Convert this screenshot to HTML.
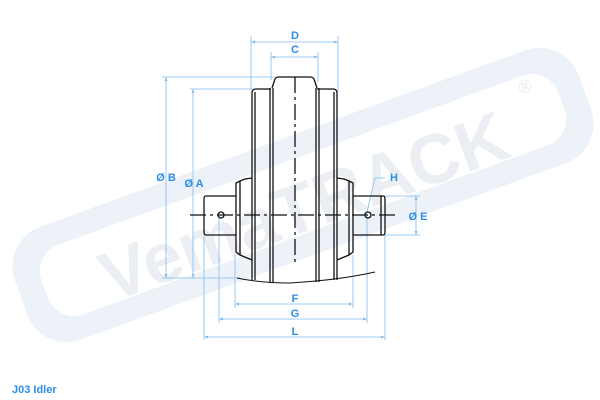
<!DOCTYPE html>
<html><head><meta charset="utf-8"><style>
html,body{margin:0;padding:0;background:#fff;}
svg{display:block;}
text{font-family:"Liberation Sans",sans-serif;font-weight:bold;}
</style></head><body>
<svg width="600" height="400" viewBox="0 0 600 400" xmlns="http://www.w3.org/2000/svg">
<!-- watermark -->
<g transform="rotate(-20 303 195)">
  <rect x="3" y="135" width="600" height="120" rx="42" fill="#edf2f8"/>
  <rect x="28" y="158" width="550" height="74" rx="28" fill="#fff"/>
  <text x="300" y="230" font-size="70" fill="#ebeef2" text-anchor="middle">VemaTRACK</text>
  <text x="542" y="175" font-size="18" fill="#ebeef2">®</text>
</g>
<g fill="none" stroke="#7fbdf0" stroke-width="0.8">
  <line x1="251" y1="36" x2="251" y2="90"/><line x1="338" y1="36" x2="338" y2="92"/>
  <line x1="251" y1="42" x2="338" y2="42"/>
  <line x1="271" y1="52" x2="271" y2="80"/><line x1="318" y1="52" x2="318" y2="82"/>
  <line x1="271" y1="57" x2="318" y2="57"/>
  <line x1="162" y1="77" x2="275" y2="77"/><line x1="166" y1="77" x2="166" y2="278"/>
  <line x1="190" y1="89" x2="252" y2="89"/><line x1="193" y1="89" x2="193" y2="278"/>
  <line x1="162" y1="278" x2="240" y2="278"/>
  <line x1="383" y1="196" x2="420" y2="196"/><line x1="383" y1="235" x2="420" y2="235"/>
  <line x1="416" y1="196" x2="416" y2="235"/>
  <polyline points="367,212 375,178 385,178"/>
  <line x1="235" y1="255" x2="235" y2="308"/><line x1="353" y1="255" x2="353" y2="308"/>
  <line x1="235" y1="304" x2="353" y2="304"/>
  <line x1="219" y1="218" x2="219" y2="323"/><line x1="367" y1="218" x2="367" y2="323"/>
  <line x1="219" y1="319" x2="367" y2="319"/>
  <line x1="204" y1="235" x2="204" y2="340"/><line x1="385" y1="235" x2="385" y2="340"/>
  <line x1="204" y1="337" x2="385" y2="337"/>
</g>
<g fill="#7fbdf0">
  <path d="M251,42 l4,-1.5 v3z"/><path d="M338,42 l-4,-1.5 v3z"/>
  <path d="M271,57 l4,-1.5 v3z"/><path d="M318,57 l-4,-1.5 v3z"/>
  <path d="M166,77 l-1.5,4 h3z"/><path d="M166,278 l-1.5,-4 h3z"/>
  <path d="M193,89 l-1.5,4 h3z"/><path d="M193,278 l-1.5,-4 h3z"/>
  <path d="M416,196 l-1.5,4 h3z"/><path d="M416,235 l-1.5,-4 h3z"/>
  <path d="M235,304 l4,-1.5 v3z"/><path d="M353,304 l-4,-1.5 v3z"/>
  <path d="M219,319 l4,-1.5 v3z"/><path d="M367,319 l-4,-1.5 v3z"/>
  <path d="M204,337 l4,-1.5 v3z"/><path d="M385,337 l-4,-1.5 v3z"/>
</g>
<g fill="#2b8ee6" font-size="11" text-anchor="middle">
  <text x="295" y="39">D</text><text x="295" y="53">C</text>
  <text x="166" y="181">Ø B</text><text x="194" y="187">Ø A</text>
  <text x="394" y="181">H</text><text x="418" y="220">Ø E</text>
  <text x="295" y="302">F</text><text x="295" y="317">G</text><text x="295" y="335">L</text>
  <text x="12" y="393" text-anchor="start" font-size="11">J03 Idler</text>
</g>
<g fill="none" stroke="#111" stroke-width="1.3">
  <path d="M272,88 L275,79 Q276,77 279,77 L310,77 Q313,77 314,79 L317,88"/>
  <path d="M252,280 V93 Q252,89 256,89 H271"/>
  <path d="M337,280 V93 Q337,89 333,89 H317"/>
  <line x1="255" y1="92" x2="255" y2="280"/><line x1="334" y1="92" x2="334" y2="280"/>
  <line x1="270" y1="88" x2="270" y2="282"/><line x1="273" y1="88" x2="273" y2="282"/>
  <line x1="316" y1="88" x2="316" y2="282"/><line x1="319" y1="88" x2="319" y2="282"/>
  <path d="M252,178 L245,179 L240,181 L236,183 V252 L240,255 L252,260"/>
  <line x1="240" y1="181" x2="240" y2="255"/>
  <path d="M337,178 L344,179 L349,181 L353,183 V252 L349,255 L337,260"/>
  <line x1="349" y1="181" x2="349" y2="255"/>
  <path d="M236,196 H206 Q204,196 204,199 V232 Q204,235 206,235 H236"/>
  <path d="M353,196 H383 Q385,196 385,199 V232 Q385,235 383,235 H353"/>
  <line x1="381" y1="196" x2="381" y2="235"/>
  <circle cx="221" cy="215" r="3"/><circle cx="368" cy="215" r="3"/>
  <path d="M237,278 Q260,283 290,283 Q340,280 375,272" stroke-width="1"/>
  <line x1="190" y1="215" x2="397" y2="215" stroke-dasharray="16,4,3,4"/>
  <line x1="295" y1="77" x2="295" y2="265" stroke-dasharray="16,4,3,4"/>
</g>
</svg>
</body></html>
